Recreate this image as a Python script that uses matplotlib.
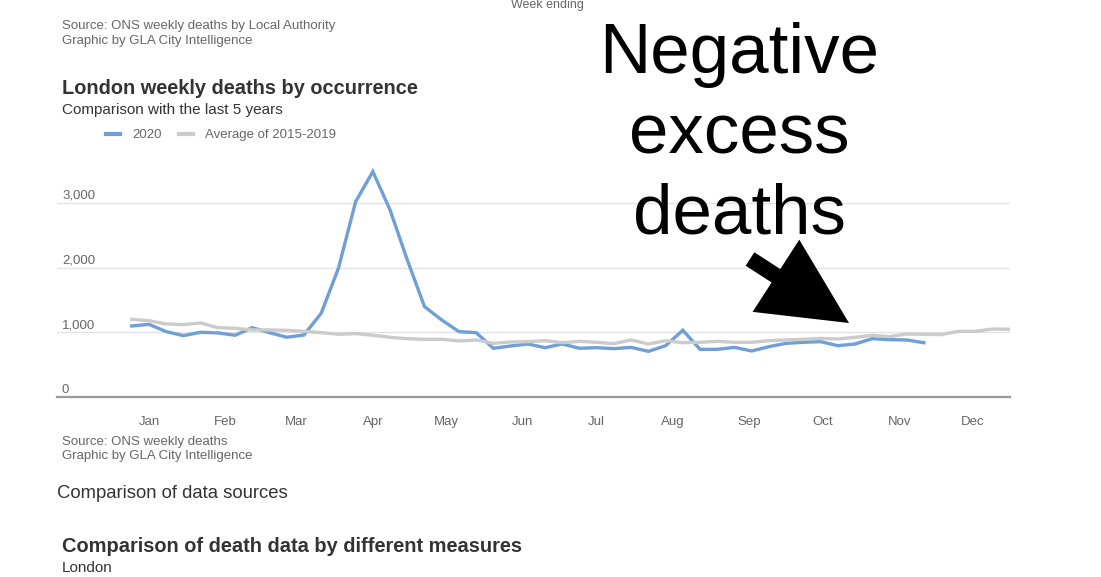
import numpy as np
import pandas as pd
import matplotlib
matplotlib.use('Agg')
import matplotlib.pyplot as plt
from matplotlib.patches import FancyArrow
from matplotlib.lines import Line2D

plt.rcParams['font.family'] = ['Liberation Sans', 'DejaVu Sans']

# week ending dates (52 weeks)
semanas = pd.date_range('2020-01-10', periods=52, freq='7D')

# 2020 weekly deaths (data runs to November)
muertes2020 = [1097, 1123, 1010, 948, 1000, 990, 954, 1071, 994, 923, 958, 1294,
               1989, 3019, 3483, 2890, 2117, 1396, 1190, 1010, 994, 753, 788, 819,
               762, 819, 753, 762, 747, 767, 705, 793, 1031, 736, 736, 767, 711,
               778, 829, 845, 855, 793, 819, 901, 886, 881, 839]

# average of 2015-2019
promedio = [1201, 1179, 1128, 1118, 1144, 1071, 1061, 1036, 1036, 1030, 1015, 994,
            969, 979, 954, 923, 901, 891, 891, 866, 881, 829, 850, 855, 870, 839,
            860, 845, 824, 881, 819, 870, 839, 845, 860, 845, 845, 870, 881, 891,
            906, 896, 922, 953, 932, 973, 969, 963, 1015, 1015, 1051, 1046]

series = ['2020', 'Average of 2015-2019']
colores = ['#6f9fd6', '#cbcbcb']

meses = ['Jan', 'Feb', 'Mar', 'Apr', 'May', 'Jun', 'Jul', 'Aug', 'Sep', 'Oct', 'Nov', 'Dec']
posMeses = pd.to_datetime(['2020-%02d-17' % (i + 1) for i in range(12)])

yticks = [0, 1000, 2000, 3000]
ytickLabels = ['0', '1,000', '2,000', '3,000']

W, H = 1101, 577
fig = plt.figure(figsize=(W / 100, H / 100), dpi=100)

# main chart area (pixel box 57..1010 x, 164..397 y)
ax = fig.add_axes([57 / W, (H - 397) / H, (1010 - 57) / W, (397 - 164) / H])
ax.plot(semanas[:len(muertes2020)], muertes2020, color=colores[0], lw=2.4,
        solid_joinstyle='miter', zorder=3)
ax.plot(semanas, promedio, color=colores[1], lw=2.4, zorder=4)

ax.set_ylim(0, 3600)
ax.set_xlim(semanas[0] - pd.Timedelta(days=30.4), semanas[-1])
for v in yticks[1:]:
    ax.axhline(v, color='#e3e3e3', lw=1, zorder=1)
for v, t in zip(yticks, ytickLabels):
    ax.annotate(t, xy=(5 / 953, v), xycoords=ax.get_yaxis_transform(),
                xytext=(0, 4), textcoords='offset pixels', va='baseline',
                ha='left', fontsize=9.5, color='#666666')

for s in ['top', 'right', 'left']:
    ax.spines[s].set_visible(False)
ax.spines['bottom'].set_color('#9a9a9a')
ax.spines['bottom'].set_linewidth(1.6)
ax.set_yticks([])
ax.set_xticks(posMeses)
ax.set_xticklabels(meses)
ax.tick_params(axis='x', length=0, pad=13.5, labelsize=9.5, labelcolor='#666666')

# overlay in pixel coordinates for the texts around the chart
ov = fig.add_axes([0, 0, 1, 1], zorder=10)
ov.set_xlim(0, W)
ov.set_ylim(H, 0)
ov.axis('off')

gris = '#666666'
oscuro = '#333333'
ov.text(547, 5, 'Week ending', ha='center', va='center', fontsize=9, color=gris)
ov.text(62, 26, 'Source: ONS weekly deaths by Local Authority', va='center', fontsize=9.5, color=gris)
ov.text(62, 41, 'Graphic by GLA City Intelligence', va='center', fontsize=9.5, color=gris)
ov.text(62, 88, 'London weekly deaths by occurrence', va='center', fontsize=14.4,
        fontweight='bold', color=oscuro)
ov.text(62, 110, 'Comparison with the last 5 years', va='center', fontsize=11, color=oscuro)

# legend
lx = [106, 179]
for i in range(2):
    ov.add_line(Line2D([lx[i], lx[i] + 14], [134, 134], color=colores[i], lw=3))
    ov.text(lx[i] + 26, 135, series[i], va='center', fontsize=9.5, color=gris)

ov.text(62, 442, 'Source: ONS weekly deaths', va='center', fontsize=9.5, color=gris)
ov.text(62, 456, 'Graphic by GLA City Intelligence', va='center', fontsize=9.5, color=gris)
ov.text(57, 494, 'Comparison of data sources', va='center', fontsize=13.3, color=oscuro)
ov.text(62, 546, 'Comparison of death data by different measures', va='center',
        fontsize=14.4, fontweight='bold', color=oscuro)
ov.text(62, 568, 'London', va='center', fontsize=11, color=oscuro)

# annotation
ov.text(739, 233, 'Negative\nexcess\ndeaths', ha='center', va='baseline',
        fontsize=51, color='black', linespacing=1.27, multialignment='center')
ov.add_patch(FancyArrow(750, 259, 99, 64, width=16, head_width=86, head_length=87,
                        length_includes_head=True, color='black', lw=0))

plt.savefig('out.png', dpi=100)
